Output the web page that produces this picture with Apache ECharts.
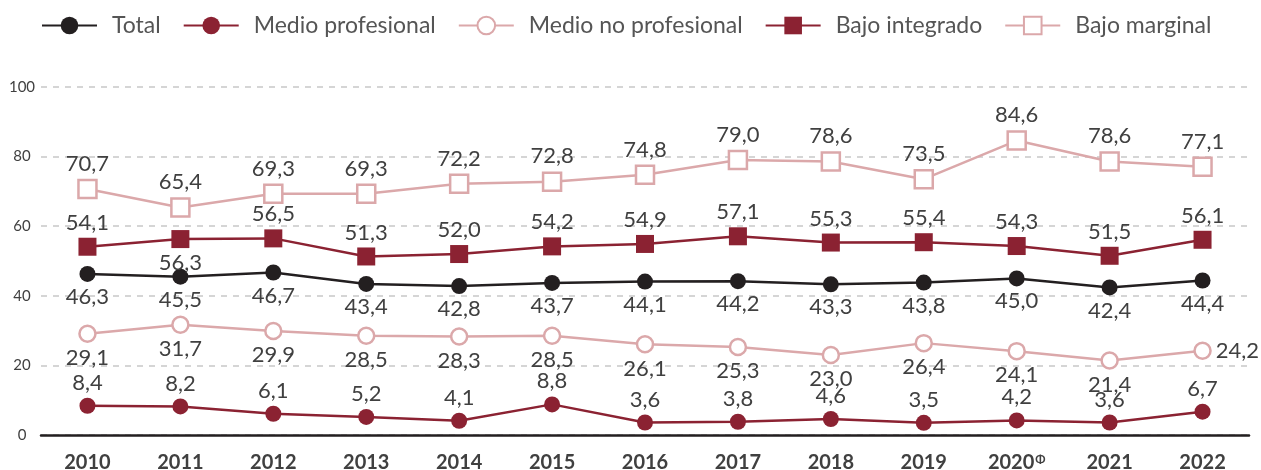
<!DOCTYPE html>
<html><head><meta charset="utf-8">
<script src="https://cdn.jsdelivr.net/npm/echarts@6/dist/echarts.min.js"></script>
<style>html,body{margin:0;padding:0;background:#fff}#c{width:1261px;height:470px}</style>
</head><body><div id="c"></div>
<script>
const categories = ['2010','2011','2012','2013','2014','2015','2016','2017','2018','2019','2020\u03A6','2021','2022'];
const yTicks = [0,20,40,60,80,100];
const total = [46.3,45.5,46.7,43.4,42.8,43.7,44.1,44.2,43.3,43.8,45.0,42.4,44.4];
const medioProfesional = [8.4,8.2,6.1,5.2,4.1,8.8,3.6,3.8,4.6,3.5,4.2,3.6,6.7];
const medioNoProfesional = [29.1,31.7,29.9,28.5,28.3,28.5,26.1,25.3,23.0,26.4,24.1,21.4,24.2];
const bajoIntegrado = [54.1,56.3,56.5,51.3,52.0,54.2,54.9,57.1,55.3,55.4,54.3,51.5,56.1];
const bajoMarginal = [70.7,65.4,69.3,69.3,72.2,72.8,74.8,79.0,78.6,73.5,84.6,78.6,77.1];

const DARK = '#8b2232', LIGHT = '#dba8aa', BLACK = '#231f20';
const FONT = 'Lato, "Open Sans", sans-serif';
const fmt = v => v.toFixed(1).replace('.', ',');
const lbl = (pos) => ({show:true, position:pos, distance:4, color:'#404040', fontSize:22, fontFamily:FONT, formatter:p=>fmt(p.value)});

function mk(name, data, color, symbol, size, fill, pos, overrides) {
  return {
    name, type:'line', data: data.map((v,i)=>{
      const o = overrides && overrides[i];
      return o ? {value:v, label:lbl(o)} : v;
    }),
    symbol, symbolSize:size, showAllSymbol:true,
    lineStyle:{color, width:2.5},
    itemStyle:{color:fill, borderColor:color, borderWidth: fill==='#fff'?2.5:0},
    label: lbl(pos),
    emphasis:{disabled:true}, animation:false, z: 3
  };
}

const chart = echarts.init(document.getElementById('c'), null, {renderer:'canvas'});
chart.setOption({
  animation:false,
  legend:{
    top:9, left:36, itemGap:22, itemWidth:55, itemHeight:22,
    textStyle:{fontSize:23, color:'#555', fontFamily:FONT, padding:[0,0,0,10]},
    data:['Total','Medio profesional','Medio no profesional','Bajo integrado','Bajo marginal']
  },
  grid:{left:41, right:12, top:87, bottom:35, containLabel:false, outerBoundsMode:'none'},
  xAxis:{
    type:'category', data:categories, boundaryGap:true,
    axisLine:{lineStyle:{color:BLACK, width:2.5}},
    axisTick:{show:false},
    axisLabel:{
      interval:0, margin:18, fontSize:20, fontWeight:'bold', color:'#404040', fontFamily:FONT,
      formatter: v => v.indexOf('\u03A6')>=0 ? '{b|2020}{s|\u03A6}' : '{b|'+v+'}',
      rich:{
        b:{fontSize:20, fontWeight:'bold', color:'#404040', fontFamily:FONT},
        s:{fontSize:12, color:'#404040', fontFamily:FONT, verticalAlign:'top', padding:[0,0,8,1]}
      }
    }
  },
  yAxis:{
    type:'value', min:0, max:100, interval:20,
    axisLine:{show:false}, axisTick:{show:false},
    axisLabel:{align:'center', margin:19, fontSize:15, color:'#404040', fontFamily:FONT,
      formatter: v => yTicks.includes(v) ? String(v) : ''},
    splitLine:{show:true, lineStyle:{color:'#c8c8c8', width:1.5, type:[6,6]}}
  },
  series:[
    mk('Total', total, BLACK, 'circle', 16, BLACK, 'bottom'),
    mk('Medio profesional', medioProfesional, DARK, 'circle', 16, DARK, 'top'),
    mk('Medio no profesional', medioNoProfesional, LIGHT, 'circle', 16, '#fff', 'bottom', {12:'right'}),
    mk('Bajo integrado', bajoIntegrado, DARK, 'rect', 18, DARK, 'top', {1:'bottom'}),
    mk('Bajo marginal', bajoMarginal, LIGHT, 'rect', 18, '#fff', 'top')
  ]
});
</script></body></html>
